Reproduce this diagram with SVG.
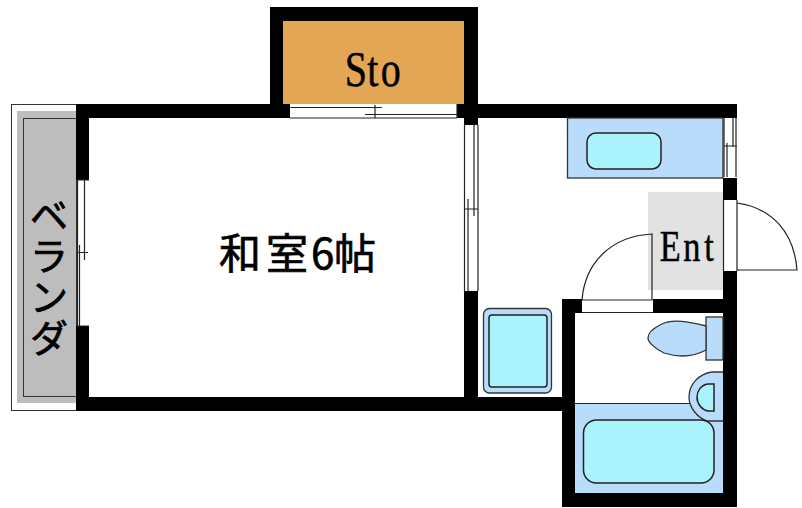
<svg xmlns="http://www.w3.org/2000/svg" width="802" height="508" viewBox="0 0 802 508">
<style>
.w{fill:#000}
.thin{fill:none;stroke:#222;stroke-width:1.2}
.win{fill:#fff;stroke:none}
.fix{fill:#b9dcfb;stroke:#333;stroke-width:1.3}
.water{fill:#aaf3fd;stroke:#222;stroke-width:1.5}
.jp{font-family:"Noto Sans CJK JP","Liberation Sans",sans-serif;fill:#000;stroke:#000;stroke-width:.7}
.lat{font-family:"Liberation Serif",serif;fill:#000;stroke:#000;stroke-width:.5}
</style>
<rect width="802" height="508" fill="#fff"/>
<!-- balcony -->
<rect x="11.5" y="104.5" width="65" height="306" fill="#fff" stroke="#333" stroke-width="1"/>
<rect x="17" y="111" width="60" height="292" fill="#bdbdbd"/>
<rect x="23.500" y="118.500" width="53" height="278" fill="none" stroke="#333" stroke-width="1"/>
<!-- storage -->
<rect x="283" y="21" width="181" height="83" fill="#e3a655"/>
<!-- entrance floor -->
<rect x="648" y="192" width="75" height="98" fill="#e2e2e2"/>
<!-- bath floor -->
<rect x="575" y="403" width="148" height="90" fill="#b9dcfb"/>
<line x1="575" y1="403.500" x2="690" y2="403.500" stroke="#222" stroke-width="1.200"/>
<!-- walls -->
<g>
<path class="w" d="M270 7H478V104H737V200H723V118H478V125H464V118H89V180H76V104H270ZM283 21V104H464V21Z" fill-rule="evenodd"/>
<rect class="w" x="76" y="326" width="13" height="85"/>
<rect class="w" x="76" y="397" width="486" height="14"/>
<rect class="w" x="464" y="291" width="14" height="106"/>
<path class="w" d="M562 299H582V313H575V493H723V313H653V299H723V271H737V507H562Z"/>
</g>
<!-- windows -->
<rect class="win" x="290" y="104" width="167" height="14"/>
<path class="thin" d="M290 107.500H382M365 114.500H457M290 118H457M375 105V118M457 104V118"/>
<rect class="win" x="77" y="180" width="12" height="146"/>
<path class="thin" d="M77.500 180V326M84.500 180V260M79.500 245V326M77 252.500H88M77 180H89M77 326H89"/>
<rect class="win" x="465" y="125" width="13" height="166"/>
<path class="thin" d="M464.500 125V291M478 125V291M474 125V216M468 199V291M464 209H478"/>
<rect class="win" x="723" y="118" width="14" height="60"/>
<path class="thin" d="M724 118V177M736 118V177M733 118V147M727 143V177M724 146H737"/>
<rect x="723" y="178" width="14" height="22" fill="#000"/>
<!-- doors -->
<rect class="win" x="723" y="200" width="14" height="71"/>
<path class="thin" d="M723.500 200V271M737 200V271M737 203C772 208 794 232 797 270H737"/>
<rect class="win" x="582" y="299" width="71" height="14"/>
<path class="thin" d="M652 234V300H582C585 262 612 236 652 234ZM582 312.500H653"/>
<!-- fixtures -->
<rect class="fix" x="567.500" y="118" width="155.500" height="60"/>
<rect class="water" x="587" y="133" width="74" height="36" rx="9"/>
<rect class="fix" x="483.500" y="308.500" width="68" height="84.500" rx="6"/>
<rect class="water" x="489" y="315" width="58" height="72" rx="3"/>
<rect class="fix" x="706" y="317" width="17" height="43"/>
<path class="fix" d="M706 326C690 322 672 318 660 325C652 329 648 334 648 338C648 342 654 348 664 353C680 358 695 356 706 350Z"/>
<path class="fix" d="M723 372H712C699 374 689 384 689 397C689 408 698 418 707 421H723"/>
<path class="water" d="M714 384H708C701 385 697 391 697 397C697 404 702 410 708 411H714Z"/>
<rect class="water" x="583.500" y="420" width="130.500" height="63" rx="13"/>
<!-- labels -->
<text class="jp" font-size="38" text-anchor="middle" x="49 49 49 49" y="229 270 311 352">ベランダ</text>
<text class="jp" font-size="42" x="219 266 311 334" y="269">和室6帖</text>
<text class="lat" font-size="50" transform="scale(.8 1)" x="431 459 476" y="86">Sto</text>
<text class="lat" font-size="44" transform="scale(.78 1)" x="846 876 903" y="261">Ent</text>
</svg>
